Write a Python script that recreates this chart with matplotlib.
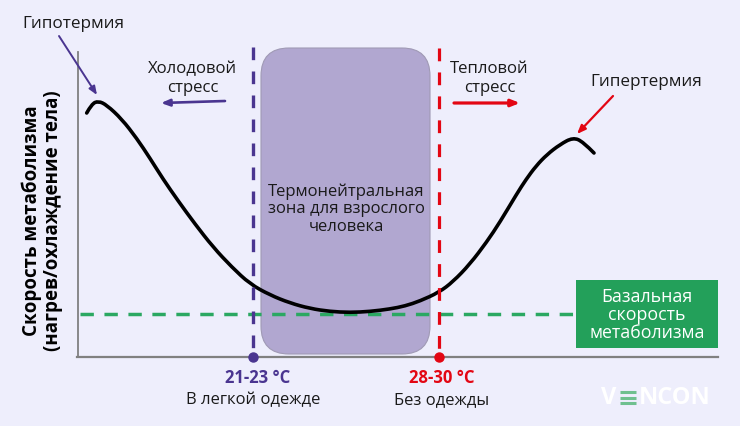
import matplotlib
matplotlib.use("Agg")
import matplotlib.pyplot as plt
from matplotlib.patches import FancyBboxPatch, Rectangle, PathPatch
from matplotlib.path import Path

plt.rcParams['font.family'] = ['Open Sans', 'DejaVu Sans']

# --- data (pixel scale of the original) ---
curve_x = [86.7, 91.7, 98.3, 106.7, 121.7, 136.7, 150, 163, 178, 195, 213, 231.7, 250, 270, 290, 310, 330, 350,
           370, 390, 405, 420, 439, 453, 470, 486.7, 500, 516.7, 526, 536, 547, 560, 573, 583, 594]
curve_y = [114, 105, 102, 106, 120, 139.3, 159.3, 180, 201.7, 225, 248, 268, 285, 296, 304, 309.5, 312.5, 313.5,
           312.5, 310, 307, 302, 293.3, 282.7, 265, 243, 223, 195, 180.5, 167, 155.5, 145.5, 138.5, 142.7, 154]
cold_x = 253
warm_x = 439
basal_y = 315

BG = '#EEEEFC'
PURPLE = '#4A3590'
RED = '#E30613'
GREEN = '#23A05A'
TEXT = '#1A1A1A'

fig = plt.figure(figsize=(7.4, 4.27), dpi=100, facecolor=BG)
ax = fig.add_axes([0, 0, 1, 1])
ax.set_xlim(0, 740)
ax.set_ylim(427, 0)
ax.axis('off')

# thermoneutral zone
ax.add_patch(FancyBboxPatch((261 + 28, 49 + 28), 169 - 56, 306 - 56, boxstyle="round,pad=28,rounding_size=28",
                            fc='#B1A7D0', ec='#A09AB5', lw=0.8, zorder=1))

# axes lines
ax.plot([77.5, 77.5], [53, 358], color='#808080', lw=1.3, zorder=2)
ax.plot([77, 718], [358, 358], color='#808080', lw=1.6, zorder=2)

# basal level
ax.plot([80, 576], [basal_y, basal_y], color='#2BA862', lw=2.5, dashes=(3.85, 3.05), zorder=3)

# curve, the read points steer a smooth quadratic path
verts = [(curve_x[0], curve_y[0])]
codes = [Path.MOVETO]
for i in range(1, len(curve_x) - 1):
    end = (curve_x[i + 1], curve_y[i + 1]) if i == len(curve_x) - 2 else \
        ((curve_x[i] + curve_x[i + 1]) / 2, (curve_y[i] + curve_y[i + 1]) / 2)
    verts += [(curve_x[i], curve_y[i]), end]
    codes += [Path.CURVE3, Path.CURVE3]
ax.add_patch(PathPatch(Path(verts, codes), fc='none', ec='black', lw=2.6, capstyle='round', zorder=4))

# range boundaries
ax.plot([cold_x, cold_x], [48, 350], color=PURPLE, lw=2.4, dashes=(3.8, 3.4), zorder=5)
ax.plot([warm_x, warm_x], [49, 350], color=RED, lw=2.3, dashes=(4.0, 3.5), zorder=5)
ax.plot([cold_x], [358], 'o', color=PURPLE, ms=6.5, zorder=6)
ax.plot([warm_x], [358], 'o', color=RED, ms=6.5, zorder=6)


def arrow(x0, y0, x1, y1, color, lw=1.6):
    ax.annotate('', xy=(x1, y1), xytext=(x0, y0), zorder=6,
                arrowprops=dict(arrowstyle='-|>,head_length=0.5,head_width=0.2', color=color, lw=lw,
                                shrinkA=0, shrinkB=0))


arrow(59, 37, 97, 96, PURPLE, 1.4)
arrow(225, 102, 161, 104, PURPLE, 1.9)
arrow(454, 104, 520, 104, RED, 2.3)
arrow(613, 97, 577, 135, RED, 1.6)

# texts
ax.text(73.5, 24, 'Гипотермия', fontsize=12.3, color=TEXT, ha='center', va='center')
ax.text(192.5, 78.5, 'Холодовой\nстресс', fontsize=12.1, color=TEXT, ha='center', va='center', linespacing=1.17)
ax.text(489.5, 78.5, 'Тепловой\nстресс', fontsize=12.1, color=TEXT, ha='center', va='center', linespacing=1.17)
ax.text(646.5, 82, 'Гипертермия', fontsize=12.3, color=TEXT, ha='center', va='center')
ax.text(346, 209, 'Термонейтральная\nзона для взрослого\nчеловека', fontsize=12, color=TEXT,
        ha='center', va='center', linespacing=1.14, zorder=3)
ax.text(42.5, 221, 'Скорость метаболизма\n(нагрев/охлаждение тела)', fontsize=13.5, fontweight='bold',
        color='black', rotation=90, ha='center', va='center', linespacing=1.06)
ax.text(258, 378, '21-23 °C', fontsize=12, fontweight='bold', color=PURPLE, ha='center', va='center')
ax.text(253, 400, 'В легкой одежде', fontsize=12, color=TEXT, ha='center', va='center')
ax.text(442, 378, '28-30 °C', fontsize=12, fontweight='bold', color=RED, ha='center', va='center')
ax.text(442, 400, 'Без одежды', fontsize=12, color=TEXT, ha='center', va='center')

# basal label box
ax.add_patch(Rectangle((576, 281), 142, 68, fc=GREEN, ec='none', zorder=6))
ax.text(647, 315, 'Базальная\nскорость\nметаболизма', fontsize=12.8, color='white', ha='center', va='center',
        linespacing=1.0, zorder=7)

# watermark
ax.text(609, 398.5, 'V', fontsize=17, fontweight='bold', color='white', ha='center', va='center')
ax.text(674.5, 398.5, 'NCON', fontsize=17, fontweight='bold', color='white', ha='center', va='center')
for stripe_y in (393, 398.5, 404):
    ax.plot([620, 636], [stripe_y, stripe_y], color='#6FC08F', lw=2.2, solid_capstyle='butt')

fig.savefig('out.png', dpi=100, facecolor=BG)
